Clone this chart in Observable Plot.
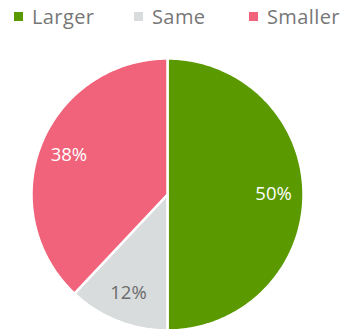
<!DOCTYPE html>
<html>
<head>
<meta charset="utf-8">
<script src="https://cdn.jsdelivr.net/npm/d3@7"></script>
<script src="https://cdn.jsdelivr.net/npm/@observablehq/plot@0.6"></script>
<style>
  html, body { margin: 0; padding: 0; background: #fff; }
  body { width: 349px; height: 329px; overflow: hidden; font-family: "Open Sans", sans-serif; }
  #legend { position: relative; height: 40px; }
  .item { position: absolute; top: 3px; display: flex; align-items: center; font-size: 20px; color: #777; font-weight: 400; letter-spacing: 0.4px; }
  .sw { width: 9px; height: 9px; margin-right: 9px; display: inline-block; }
</style>
</head>
<body>
<div id="legend"></div>
<div id="chart"></div>
<script>
const categories = ["Larger", "Same", "Smaller"];
const values = [50, 12, 38];
const colors = ["#5a9a00", "#d9dcdc", "#f0637b"];
const labelColors = ["#ffffff", "#6b6b6b", "#ffffff"];
const legendX = [14, 134, 249];

// legend
const legend = document.getElementById("legend");
categories.forEach((c, i) => {
  const d = document.createElement("div");
  d.className = "item";
  d.style.left = legendX[i] + "px";
  const s = document.createElement("span");
  s.className = "sw";
  s.style.background = colors[i];
  d.appendChild(s);
  d.appendChild(document.createTextNode(c));
  legend.appendChild(d);
});

// slice geometry derived from data
const total = d3.sum(values);
const slices = [];
let acc = 0;
categories.forEach((c, i) => {
  const a0 = acc / total * 2 * Math.PI;
  acc += values[i];
  const a1 = acc / total * 2 * Math.PI;
  slices.push({key: c, value: values[i], a0, a1, mid: (a0 + a1) / 2});
});
const pts = [];
for (const s of slices) {
  pts.push({key: s.key, x: 0, y: 0});
  const n = Math.max(2, Math.ceil((s.a1 - s.a0) / (Math.PI / 180)));
  for (let k = 0; k <= n; k++) {
    const a = s.a0 + (s.a1 - s.a0) * k / n;
    pts.push({key: s.key, x: Math.sin(a), y: Math.cos(a)});
  }
  pts.push({key: s.key, x: 0, y: 0});
}
const labels = slices.map((s, i) => ({
  key: s.key,
  text: Math.round(s.value / total * 100) + "%",
  x: 0.78 * Math.sin(s.mid),
  y: 0.78 * Math.cos(s.mid),
  color: labelColors[i]
}));

const cx = 167, cy = 154, r = 136;
const plot = Plot.plot({
  width: 349,
  height: 289,
  margin: 0,
  x: {domain: [-1, 1], range: [cx - r, cx + r], axis: null},
  y: {domain: [-1, 1], range: [cy + r, cy - r], axis: null},
  color: {domain: categories, range: colors},
  style: {fontFamily: "Open Sans, sans-serif", background: "white"},
  marks: [
    Plot.line(pts, {x: "x", y: "y", z: "key", fill: "key", stroke: "white", strokeWidth: 2.5, strokeLinejoin: "round", curve: "linear"}),
    Plot.text(labels, {x: "x", y: "y", text: "text", fill: "color", fontSize: 18.5, fontWeight: 400, letterSpacing: "0.3px"})
  ]
});
document.getElementById("chart").appendChild(plot);
</script>
</body>
</html>
